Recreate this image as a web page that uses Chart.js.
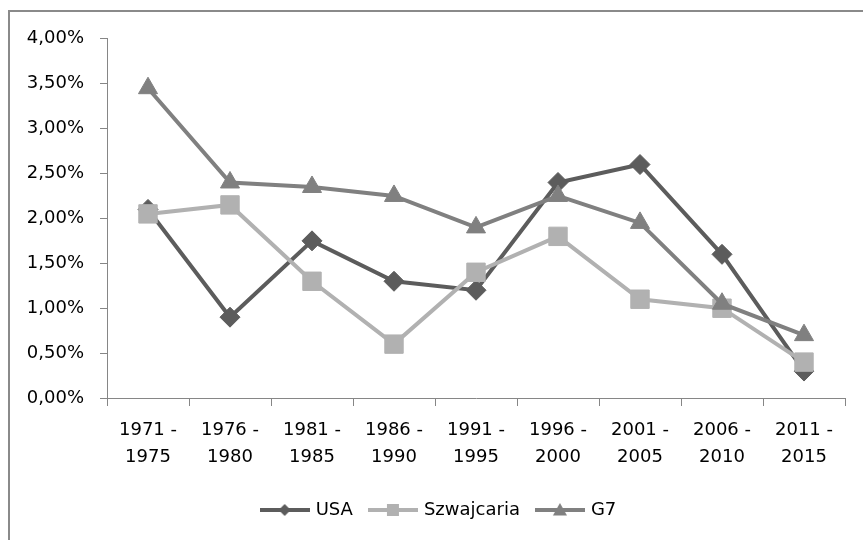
<!DOCTYPE html>
<html>
<head>
<meta charset="utf-8">
<script src="https://cdn.jsdelivr.net/npm/chart.js@4/dist/chart.umd.min.js"></script>
<style>
  html, body { margin: 0; padding: 0; background: #fff; overflow: hidden; width: 863px; height: 540px; }
  #wrap { position: absolute; left: 8px; top: 10px; width: 862px; height: 540px; border: 2px solid #8a8a8a; background: #fff; }
  canvas { display: block; }
</style>
</head>
<body>
<div id="wrap"><canvas id="c" width="862" height="540"></canvas></div>
<script>
const categories = [["1971 -","1975"],["1976 -","1980"],["1981 -","1985"],["1986 -","1990"],["1991 -","1995"],["1996 -","2000"],["2001 -","2005"],["2006 -","2010"],["2011 -","2015"]];
const usa = [2.10, 0.90, 1.75, 1.30, 1.20, 2.40, 2.60, 1.60, 0.30];
const szwajcaria = [2.05, 2.15, 1.30, 0.60, 1.40, 1.80, 1.10, 1.00, 0.40];
const g7 = [3.45, 2.40, 2.35, 2.25, 1.90, 2.25, 1.95, 1.05, 0.70];
const seriesNames = ["USA", "Szwajcaria", "G7"];

const FONT = "'DejaVu Sans', sans-serif";

function legendIcon(color, style, r) {
  const c = document.createElement('canvas');
  c.width = 50; c.height = 20;
  const ctx = c.getContext('2d');
  ctx.strokeStyle = color; ctx.lineWidth = 4;
  ctx.beginPath(); ctx.moveTo(0, 10); ctx.lineTo(50, 10); ctx.stroke();
  ctx.fillStyle = color;
  ctx.beginPath();
  if (style === 'rectRot') {
    ctx.moveTo(25, 10 - r); ctx.lineTo(25 + r, 10); ctx.lineTo(25, 10 + r); ctx.lineTo(25 - r, 10); ctx.closePath();
  } else if (style === 'rect') {
    ctx.rect(25 - r, 10 - r, 2 * r, 2 * r);
  } else {
    ctx.moveTo(25, 10 - r); ctx.lineTo(25 + r, 10 + r * 0.8); ctx.lineTo(25 - r, 10 + r * 0.8); ctx.closePath();
  }
  ctx.fill();
  return c;
}

const colUSA = '#5c5c5c', colSZ = '#b1b1b1', colG7 = '#808080';

const shiftLegend = {
  id: 'shiftLegend',
  afterLayout(chart) {
    if (chart.legend) { chart.legend.left += 12; chart.legend.right += 12; }
  }
};

new Chart(document.getElementById('c'), {
  type: 'line',
  data: {
    labels: categories,
    datasets: [
      { label: seriesNames[0], data: usa, borderColor: colUSA, backgroundColor: colUSA, borderWidth: 4,
        pointStyle: 'rectRot', pointRadius: 10, pointBorderWidth: 1, pointBackgroundColor: colUSA, pointBorderColor: colUSA, order: 3,
        legendIcon: legendIcon(colUSA, 'rectRot', 6) },
      { label: seriesNames[1], data: szwajcaria, borderColor: colSZ, backgroundColor: colSZ, borderWidth: 4,
        pointStyle: 'rect', pointRadius: 13, pointBorderWidth: 1, pointBackgroundColor: colSZ, pointBorderColor: colSZ, order: 2,
        legendIcon: legendIcon(colSZ, 'rect', 6) },
      { label: seriesNames[2], data: g7, borderColor: colG7, backgroundColor: colG7, borderWidth: 4,
        pointStyle: 'triangle', pointRadius: 11, pointBorderWidth: 1, pointBackgroundColor: colG7, pointBorderColor: colG7, order: 1,
        legendIcon: legendIcon(colG7, 'triangle', 7) }
    ]
  },
  plugins: [shiftLegend],
  options: {
    responsive: false,
    animation: false,
    events: [],
    layout: { padding: { left: 0, right: 27, top: 26, bottom: 23 } },
    elements: { line: { tension: 0 } },
    plugins: {
      tooltip: { enabled: false },
      legend: {
        position: 'bottom',
        labels: {
          font: { family: FONT, size: 18 },
          color: '#000',
          usePointStyle: true,
          pointStyleWidth: 44,
          padding: 18,
          sort: (a, b) => a.datasetIndex - b.datasetIndex,
          generateLabels: (chart) => chart.data.datasets.map((ds, i) => ({
            text: ds.label, datasetIndex: i, pointStyle: ds.legendIcon,
            fillStyle: ds.borderColor, strokeStyle: ds.borderColor, lineWidth: 0, hidden: false, fontColor: '#000'
          }))
        }
      }
    },
    scales: {
      x: {
        offset: true,
        grid: { offset: true, drawOnChartArea: false, drawTicks: true, tickLength: 8, color: '#868686' },
        border: { color: '#868686', width: 1 },
        ticks: { font: { family: FONT, size: 18, lineHeight: 1.5 }, color: '#000', padding: 11, maxRotation: 0, autoSkip: false },
        afterFit: (s) => { s.height = 85; }
      },
      y: {
        min: 0, max: 4,
        grid: { drawOnChartArea: false, tickLength: 7, color: '#868686' },
        border: { color: '#868686', width: 1 },
        ticks: { stepSize: 0.5, font: { family: FONT, size: 18 }, color: '#000', padding: 16,
          callback: (v) => v.toFixed(2).replace('.', ',') + '%' },
        afterFit: (s) => { s.width = 97; }
      }
    }
  }
});
</script>
</body>
</html>
